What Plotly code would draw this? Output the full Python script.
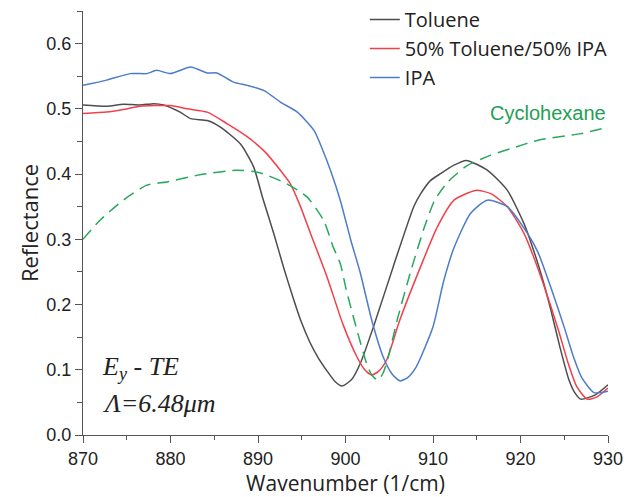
import plotly.graph_objects as go

# Reflectance spectra vs wavenumber (1/cm)
toluene_x = [870.0, 872.7, 874.6, 876.5, 878.1, 879.2, 881.1, 882.3, 884.2, 885.7, 888.0, 889.5,
             890.5, 891.8, 892.9, 893.9, 894.9, 895.9, 896.9, 897.9, 898.8, 899.6, 900.7, 901.7,
             903.2, 905.5, 907.8, 908.6, 909.7, 910.9, 912.3, 913.8, 916.2, 918.5, 920.4, 921.5,
             922.5, 923.5, 924.5, 925.5, 926.2, 926.9, 928.6, 930.0]
toluene_y = [0.506, 0.504, 0.507, 0.506, 0.508, 0.506, 0.495, 0.485, 0.482, 0.472, 0.446, 0.411,
             0.365, 0.309, 0.258, 0.215, 0.175, 0.143, 0.118, 0.098, 0.082, 0.075, 0.085, 0.110,
             0.166, 0.260, 0.350, 0.370, 0.390, 0.401, 0.413, 0.421, 0.406, 0.375, 0.324, 0.283,
             0.240, 0.190, 0.135, 0.086, 0.065, 0.055, 0.062, 0.077]

mix_x = [870.0, 872.7, 874.6, 876.5, 880.0, 881.9, 884.2, 886.5, 888.8, 890.8, 892.6, 893.7,
         894.8, 896.0, 897.9, 899.7, 901.3, 902.2, 903.0, 903.8, 904.7, 906.2, 908.7, 910.5,
         912.4, 914.9, 916.6, 918.5, 920.4, 922.0, 923.4, 924.4, 925.4, 926.4, 927.6, 928.7,
         930.0]
mix_y = [0.493, 0.495, 0.499, 0.504, 0.505, 0.500, 0.495, 0.477, 0.457, 0.434, 0.405, 0.385,
         0.352, 0.309, 0.242, 0.170, 0.120, 0.100, 0.092, 0.098, 0.115, 0.176, 0.262, 0.319,
         0.360, 0.375, 0.370, 0.350, 0.309, 0.255, 0.200, 0.158, 0.112, 0.075, 0.055, 0.058,
         0.072]

ipa_x = [870.0, 872.7, 875.4, 877.3, 878.4, 880.0, 882.3, 884.2, 885.3, 887.2, 888.8, 890.7,
         892.6, 894.5, 896.4, 897.3, 898.3, 899.4, 900.6, 901.7, 903.0, 904.3, 905.3, 906.2,
         907.1, 908.1, 910.0, 911.2, 912.4, 914.3, 916.2, 918.5, 920.8, 922.0, 923.5, 925.0,
         926.0, 927.0, 928.4, 930.0]
ipa_y = [0.536, 0.544, 0.554, 0.554, 0.559, 0.554, 0.564, 0.555, 0.555, 0.541, 0.536, 0.528,
         0.510, 0.495, 0.467, 0.440, 0.405, 0.360, 0.299, 0.248, 0.176, 0.120, 0.094, 0.083,
         0.088, 0.105, 0.166, 0.235, 0.287, 0.340, 0.360, 0.350, 0.309, 0.280, 0.225, 0.165,
         0.122, 0.088, 0.065, 0.067]

cyclo_x = [870.0, 872.0, 874.6, 877.3, 879.6, 883.0, 887.5, 890.2, 893.3, 895.6, 897.5, 898.6,
           899.4, 900.1, 901.1, 902.4, 903.0, 903.7, 904.3, 904.9, 905.9, 907.5, 909.0, 910.2,
           911.7, 913.9, 916.6, 918.9, 922.0, 926.9, 930.0]
cyclo_y = [0.300, 0.330, 0.360, 0.383, 0.388, 0.398, 0.406, 0.402, 0.385, 0.365, 0.329, 0.288,
           0.263, 0.222, 0.171, 0.110, 0.092, 0.084, 0.095, 0.120, 0.176, 0.253, 0.318, 0.360,
           0.388, 0.413, 0.429, 0.439, 0.452, 0.462, 0.472]

x_ticks = [870, 880, 890, 900, 910, 920, 930]
y_ticks = [0.0, 0.1, 0.2, 0.3, 0.4, 0.5, 0.6]

fig = go.Figure()

solid = [
    ("Toluene", toluene_x, toluene_y, "#4d4d4d"),
    ("50% Toluene/50% IPA", mix_x, mix_y, "#f0414b"),
    ("IPA", ipa_x, ipa_y, "#4d7cc9"),
]
for name, xs, ys, col in solid:
    fig.add_trace(go.Scatter(
        x=xs, y=ys, name=name, mode="lines",
        line=dict(color=col, width=1.5, shape="spline", smoothing=0.6),
    ))

fig.add_trace(go.Scatter(
    x=cyclo_x, y=cyclo_y, name="Cyclohexane", mode="lines", showlegend=False,
    line=dict(color="#27a85c", width=1.5, dash="12px,7px", shape="spline", smoothing=0.6),
))

axis_common = dict(
    showline=True, linecolor="#555555", linewidth=1.3, showgrid=False, zeroline=False,
    ticks="outside", ticklen=7, tickwidth=1.2, tickcolor="#555555",
    tickfont=dict(family="Liberation Sans", size=18, color="#222222"),
    mirror=False, automargin=True,
)

fig.update_layout(
    width=629, height=497,
    margin=dict(l=83, r=21, t=11, b=62, autoexpand=False),
    paper_bgcolor="white", plot_bgcolor="white",
    xaxis=dict(
        range=[870, 930], tickvals=x_ticks, ticktext=[str(v) for v in x_ticks],
        minor=dict(dtick=5, tick0=870, ticks="outside", ticklen=4, tickcolor="#555555"),
        title=dict(text="Wavenumber (1/cm)", standoff=3,
                   font=dict(family="Open Sans", size=21, color="#222222")),
        **axis_common,
    ),
    yaxis=dict(
        range=[0, 0.65], tickvals=y_ticks, ticktext=[f"{v:.1f}" for v in y_ticks],
        minor=dict(dtick=0.05, tick0=0, ticks="outside", ticklen=5, tickcolor="#555555"),
        title=dict(text="Reflectance", standoff=1,
                   font=dict(family="Open Sans", size=22, color="#222222")),
        **axis_common,
    ),
    legend=dict(
        xref="container", yref="container",
        x=0.58, y=1.0, xanchor="left", yanchor="top",
        bgcolor="rgba(0,0,0,0)", tracegroupgap=0,
        font=dict(family="Open Sans", size=20, color="#222222"),
    ),
    annotations=[
        dict(x=930, y=0.493, xref="x", yref="y", xanchor="right", yanchor="middle",
             text="Cyclohexane", showarrow=False,
             font=dict(family="Liberation Sans", size=20, color="#1fa055")),
        dict(x=871.9, y=0.103, xref="x", yref="y", xanchor="left", yanchor="middle",
             text="<i>E<sub>y</sub> - TE</i>", showarrow=False,
             font=dict(family="Liberation Serif", size=26, color="#222222")),
        dict(x=871.9, y=0.049, xref="x", yref="y", xanchor="left", yanchor="middle",
             text="<i>Λ=6.48μm</i>", showarrow=False,
             font=dict(family="Liberation Serif", size=26, color="#222222")),
    ],
)

fig.write_html("out.html")
